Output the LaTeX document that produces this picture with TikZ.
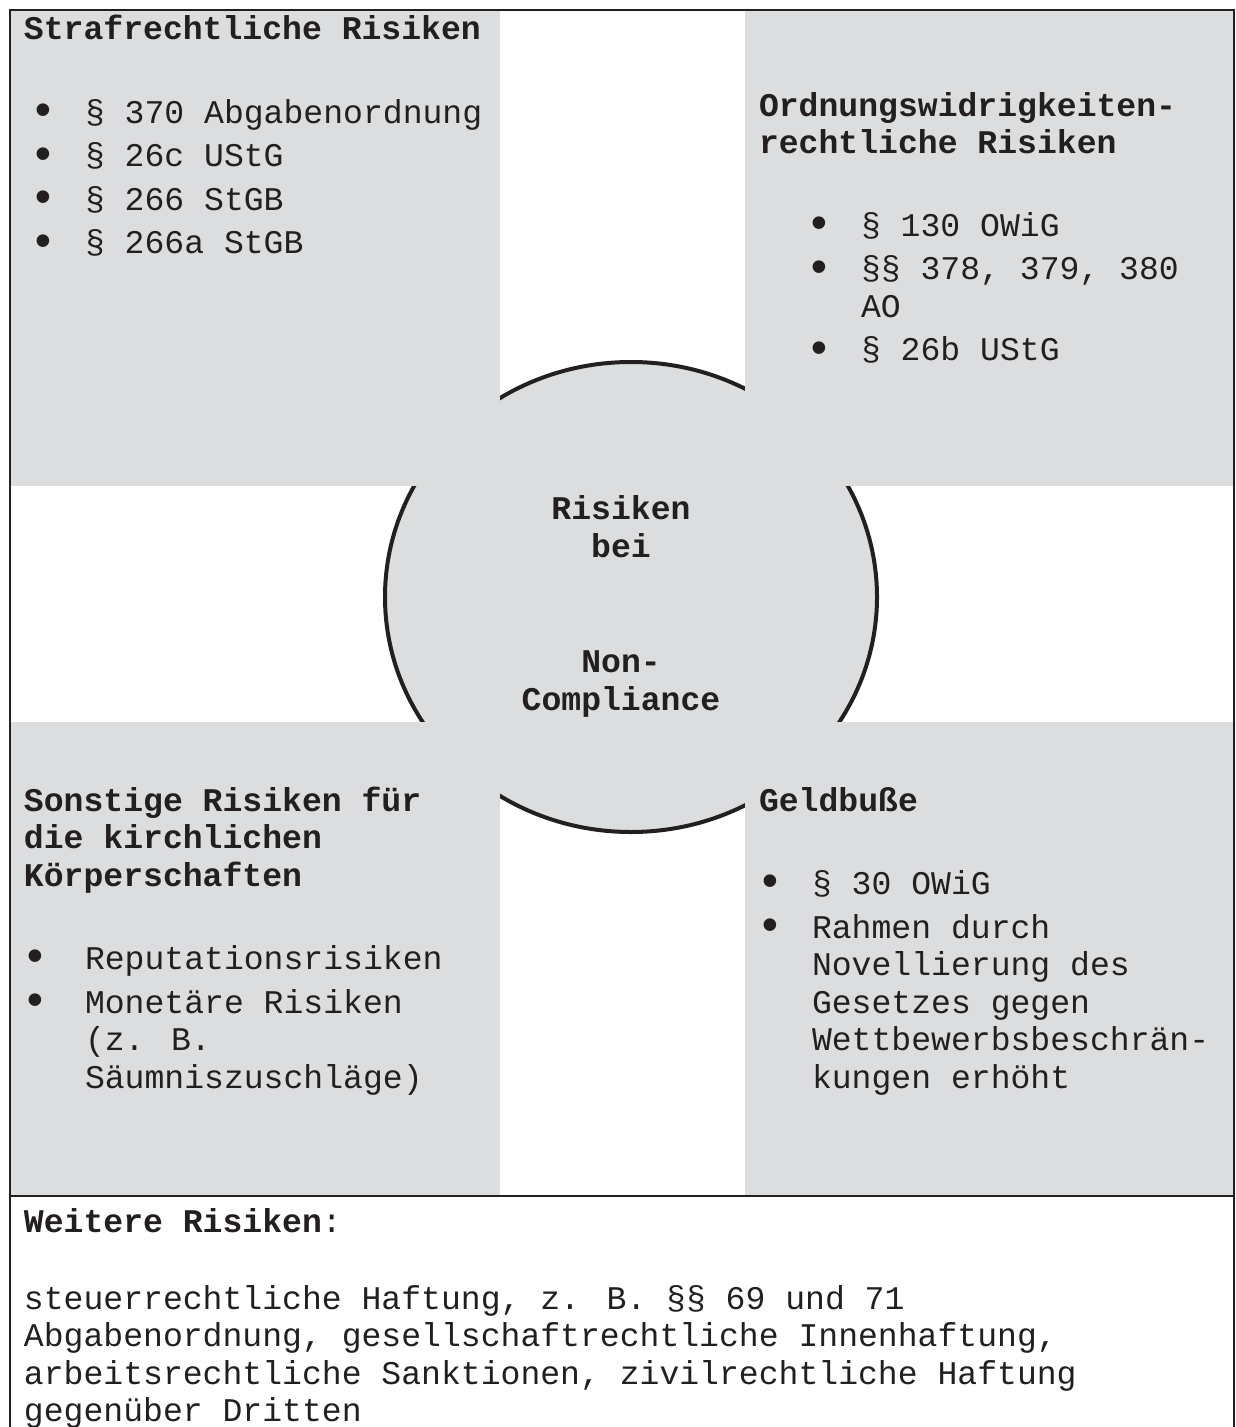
\documentclass[tikz,border=0pt]{standalone}
\usepackage{fontspec}
\setmainfont{Liberation Mono}
\usepackage{tikz}
\usetikzlibrary{positioning}
\definecolor{riskgrey}{RGB}{220,221,223}
\definecolor{ink}{RGB}{35,31,32}
\newcommand\risksize{\fontsize{16.55pt}{18.75pt}\selectfont}
\newcommand\bul[1]{\makebox[#1][l]{\hspace{-1.5pt}\raisebox{-1.2pt}{\scalebox{1.4}{\textbullet}}}}
\newcommand\hang[1]{\hspace*{#1}}

\begin{document}
\begin{tikzpicture}[x=0.5pt,y=-0.5pt,
    txt/.style={inner sep=0pt, outer sep=0pt, anchor=base west, align=left, text=ink, font=\risksize},
    head/.style={txt, font=\risksize\bfseries},
    quad/.style={fill=riskgrey, draw=none}]
  \useasboundingbox (0,0) rectangle (1235,1427);
  % circle first, the boxes cover it
  \filldraw[fill=riskgrey, draw=ink, line width=2pt] (631,597) ellipse [x radius=123pt, y radius=117.5pt];
  \fill[quad] (10,10) rectangle (500,486);
  \fill[quad] (745,10) rectangle (1234,486);
  \fill[quad] (10,722) rectangle (500,1196);
  \fill[quad] (745,722) rectangle (1234,1196);
  % frame
  \draw[ink, line width=1pt] (10,1440) -- (10,10) -- (1234,10) -- (1234,1440);
  \draw[ink, line width=1.2pt] (10,1196) -- (1234,1196);

  % multi-line nodes sit on the baseline of their last line
  \node[head] (strafHead) at (24,40) {Strafrechtliche Risiken};
  \node[txt] (strafList) at (32,254) {\bul{26.5pt}§ 370 Abgabenordnung\\[3pt]
    \bul{26.5pt}§ 26c UStG\\[3pt]
    \bul{26.5pt}§ 266 StGB\\[3pt]
    \bul{26.5pt}§ 266a StGB};

  \node[head] (owiHead) at (759,154) {Ordnungswidrigkeiten-\\rechtliche Risiken};
  \node[txt] (owiList) at (808,361) {\bul{26.5pt}§ 130 OWiG\\[3pt]
    \bul{26.5pt}§§ 378, 379, 380\\
    \hang{26.5pt}AO\\[3pt]
    \bul{26.5pt}§ 26b UStG};

  \node[head] (sonstHead) at (24,886) {Sonstige Risiken für\\die kirchlichen\\Körperschaften};
  \node[txt] (sonstList) at (24,1088) {\bul{30.5pt}Reputationsrisiken\\[3pt]
    \bul{30.5pt}Monetäre Risiken\\
    \hang{30.5pt}(z. B.\\
    \hang{30.5pt}Säumniszuschläge)};

  \node[head] (bussHead) at (759,811) {Geldbuße};
  \node[txt] (bussList) at (759,1088) {\bul{26.5pt}§ 30 OWiG\\[3pt]
    \bul{26.5pt}Rahmen durch\\
    \hang{26.5pt}Novellierung des\\
    \hang{26.5pt}Gesetzes gegen\\
    \hang{26.5pt}Wettbewerbsbeschrän-\\
    \hang{26.5pt}kungen erhöht};

  \node[head, anchor=base, align=center] (core) at (621,710) {Risiken\\bei\\[39pt]Non-\\Compliance};

  \node[head] (moreHead) at (24,1232) {Weitere Risiken{\mdseries :}};
  \node[txt] (moreText) at (24,1421.5) {steuerrechtliche Haftung, z. B. §§ 69 und 71\\
    Abgabenordnung, gesellschaftrechtliche Innenhaftung,\\
    arbeitsrechtliche Sanktionen, zivilrechtliche Haftung\\
    gegenüber Dritten};
\end{tikzpicture}
\end{document}
